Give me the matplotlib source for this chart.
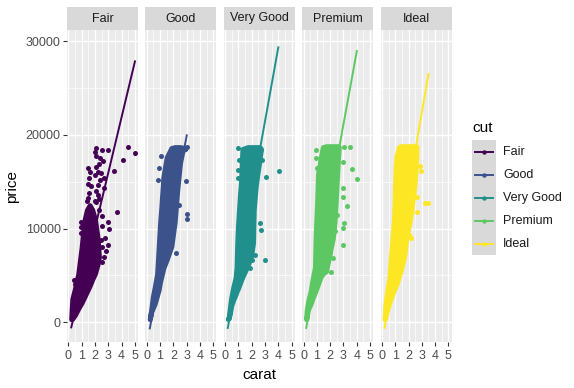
import numpy as np
import matplotlib.pyplot as plt
from matplotlib.patches import Rectangle

plt.rcParams['font.family'] = ['Liberation Sans', 'DejaVu Sans']

cuts = ['Fair', 'Good', 'Very Good', 'Premium', 'Ideal']
colors = ['#440154', '#3B528B', '#21908C', '#5DC863', '#FDE725']

# dense band of points in each facet: carat, lowest and highest price
fair_carat = [0.22, 0.25, 0.3, 0.5, 0.75, 1.0, 1.2, 1.4, 1.6, 1.8, 2.0, 2.2, 2.3]
fair_lo = [330, 340, 400, 800, 1500, 2100, 2700, 3300, 3900, 4600, 5200, 6200, 7000]
fair_hi = [400, 1300, 2500, 3600, 5200, 8000, 10800, 12000, 12500, 12000, 11000, 9000, 7000]

good_carat = [0.23, 0.3, 0.45, 0.6, 0.78, 0.9, 1.0, 1.1, 1.25, 1.5, 1.85, 2.1, 2.3, 2.5, 2.7, 2.9]
good_lo = [330, 1000, 1500, 2000, 2900, 3500, 4300, 4900, 5800, 6700, 8100, 10700, 14200, 17000, 18400, 18500]
good_hi = [330, 900, 2660, 3730, 5150, 8000, 10500, 12300, 15500, 17600, 18600, 18700, 18700, 18700, 18650, 18500]

vgood_carat = [0.2, 0.28, 0.36, 0.46, 0.61, 0.79, 0.86, 0.91, 0.96, 1.04, 1.12, 1.2, 1.3,
               1.7, 1.95, 2.1, 2.15, 2.3, 2.4, 2.55, 2.65, 2.7]
vgood_lo = [350, 500, 1000, 1800, 2400, 3000, 3300, 3450, 3600, 3900, 4200, 4500, 4850,
            6080, 7080, 8500, 12000, 14500, 15600, 17000, 18100, 18400]
vgood_hi = [350, 530, 1600, 2660, 3730, 4800, 5870, 8360, 10140, 11920, 13700, 15200, 18500,
            18700, 18700, 18700, 18700, 18700, 18700, 18700, 18600, 18500]

prem_carat = [0.2, 0.23, 0.31, 0.36, 0.54, 0.66, 0.86, 0.91, 0.96, 1.02, 1.09, 1.3, 1.45,
              1.7, 1.95, 2.2, 2.33, 2.4, 2.5, 2.6, 2.65]
prem_lo = [330, 500, 1200, 1450, 2000, 2500, 3200, 3400, 3600, 3800, 4100, 4900, 5200,
           5470, 7250, 8960, 10640, 12420, 15000, 17750, 18600]
prem_hi = [330, 1240, 1900, 2310, 3380, 4440, 5870, 9000, 10850, 12630, 15830, 17610, 18700,
           18800, 18800, 18800, 18800, 18800, 18800, 18800, 18700]

ideal_carat = [0.2, 0.27, 0.44, 0.55, 0.6, 0.7, 0.8, 0.9, 0.95, 0.98, 1.03, 1.1, 1.28, 1.43,
               1.68, 1.86, 2.06, 2.19, 2.31, 2.44, 2.57, 2.6]
ideal_lo = [330, 700, 1600, 2090, 2300, 2700, 3100, 3450, 3600, 3700, 3900, 4100, 4950, 5650,
            7080, 9210, 10640, 11700, 13130, 14500, 17500, 18600]
ideal_hi = [330, 1950, 3730, 4700, 5510, 7290, 9070, 10850, 12630, 14410, 16540, 17790, 18700, 18800,
            18800, 18800, 18800, 18800, 18800, 18800, 18800, 18700]

# scattered points outside the band
fair_pt_carat = [1.5, 1.57, 1.5, 1.57, 1.4, 2.07, 2.0, 2.5, 3.0, 4.52, 5.01, 4.13, 2.4, 2.58,
                 2.07, 3.41, 2.45, 2.0, 2.7, 2.2, 2.65, 2.2, 2.07, 3.66, 0.99, 0.94, 2.5, 3.0,
                 3.08, 2.76, 2.45, 2.5, 2.96, 0.94, 2.7, 2.83, 2.5, 0.43, 0.48,
                 2.1, 2.3, 2.2, 2.35, 2.1, 2.3, 1.6, 1.45, 2.0, 2.3, 2.5, 1.7]
fair_pt_price = [16500, 15400, 14800, 13770, 12900, 18640, 18200, 18400, 18400, 18700, 18020, 17330, 17500, 17200,
                 16600, 16150, 15900, 15700, 15370, 14660, 14300, 13600, 12800, 11740, 10740, 10200, 10300, 10740,
                 9960, 8960, 8790, 8070, 8250, 9500, 7000, 7600, 6470, 4500, 4050,
                 17800, 16900, 16000, 15200, 14000, 13200, 16000, 13300, 13000, 12000, 11300, 14500]

good_pt_carat = [3.01, 3.01, 2.95, 0.93, 0.86, 1.1, 3.0, 2.9, 2.2, 2.4]
good_pt_price = [11600, 11030, 15085, 16440, 15190, 17790, 18700, 18500, 7400, 12500]

vgood_pt_carat = [4.03, 3.01, 3.05, 2.71, 2.63, 2.25, 2.81, 0.94, 1.04, 0.99, 0.94, 2.0, 1.87]
vgood_pt_price = [16150, 6650, 15470, 9850, 10560, 7180, 17330, 18640, 17330, 16260, 15370, 6650, 5830]

prem_pt_carat = [0.94, 0.99, 0.94, 3.01, 3.5, 2.96, 3.64, 4.01, 2.96, 2.96, 3.24, 3.01, 2.96,
                 2.38, 2.96, 2.25, 2.05, 2.0, 2.5]
prem_pt_price = [18395, 16437, 17505, 18750, 18750, 17080, 16400, 15300, 14302, 13412, 12420, 10565, 10031,
                 9746, 8252, 6828, 5404, 7366, 11500]

ideal_pt_carat = [3.22, 3.5, 2.9, 2.97, 2.66, 2.66, 2.16, 2.0]
ideal_pt_price = [12700, 12700, 16700, 16100, 11800, 13340, 8960, 9300]

# linear fit per cut: carat range and fitted price at both ends
fit_carat_lo = [0.22, 0.23, 0.2, 0.2, 0.2]
fit_carat_hi = [5.01, 3.01, 4.0, 4.01, 3.5]
fit_price_lo = [-540, -650, -600, -600, -600]
fit_price_hi = [27850, 19950, 29350, 28950, 26500]

cores = [(fair_carat, fair_lo, fair_hi), (good_carat, good_lo, good_hi),
         (vgood_carat, vgood_lo, vgood_hi), (prem_carat, prem_lo, prem_hi),
         (ideal_carat, ideal_lo, ideal_hi)]
pts = [(fair_pt_carat, fair_pt_price), (good_pt_carat, good_pt_price),
       (vgood_pt_carat, vgood_pt_price), (prem_pt_carat, prem_pt_price),
       (ideal_pt_carat, ideal_pt_price)]

W, H = 574, 388
fig = plt.figure(figsize=(W / 100, H / 100), dpi=100)

ptop, pbot = 30, 342
for i, cut in enumerate(cuts):
    left = 67 + i * 78.4
    ax = fig.add_axes([left / W, 1 - pbot / H, 71 / W, (pbot - ptop) / H])
    ax.set_facecolor('#EBEBEB')
    for s in ax.spines.values():
        s.set_visible(False)
    ax.set_xlim(-0.1, 5.24)
    ax.set_ylim(-2100, 31200)
    ax.set_xticks(range(6))
    ax.set_xticks(np.arange(0.5, 5.5, 1), minor=True)
    ax.set_yticks([0, 10000, 20000, 30000])
    ax.set_yticks([5000, 15000, 25000], minor=True)
    ax.grid(which='major', color='white', lw=1.0)
    ax.grid(which='minor', color='white', lw=0.5)
    ax.set_axisbelow(True)
    ax.tick_params(which='major', length=2.8, width=0.8, color='#333333',
                   labelcolor='#4D4D4D', labelsize=9, pad=1.8)
    ax.tick_params(axis='x', which='major', pad=3.2)
    ax.tick_params(which='minor', length=0)
    if i > 0:
        ax.tick_params(axis='y', which='major', length=0, labelleft=False)

    c = colors[i]
    xs, lo, hi = cores[i]
    ax.fill_between(xs, lo, hi, color=c, lw=3.6, edgecolor=c, joinstyle='round')
    ax.scatter(pts[i][0], pts[i][1], s=13, color=c, lw=0)
    ax.plot([fit_carat_lo[i], fit_carat_hi[i]], [fit_price_lo[i], fit_price_hi[i]],
            color=c, lw=1.4)

    ax.add_patch(Rectangle((0, 1), 1, 23 / 312, transform=ax.transAxes,
                           color='#D9D9D9', clip_on=False, lw=0))
    ax.text(0.5, 1 + 11.5 / 312, cut, transform=ax.transAxes, ha='center',
            va='center', fontsize=9, color='#1A1A1A')

fig.text(12 / W, 1 - 186 / H, 'price', rotation=90, ha='center', va='center', fontsize=11)
fig.text(259 / W, 1 - 375 / H, 'carat', ha='center', va='center', fontsize=11)

# legend
fig.text(472 / W, 1 - 128 / H, 'cut', ha='left', va='center', fontsize=11)
lax = fig.add_axes([472.3 / W, 1 - 255 / H, 23.4 / W, 115 / H])
lax.set_facecolor('#D9D9D9')
lax.set_xlim(0, 1)
lax.set_ylim(0, 5)
lax.set_xticks([])
lax.set_yticks([])
for s in lax.spines.values():
    s.set_visible(False)
for i, cut in enumerate(cuts):
    yk = 4.5 - i
    lax.plot([0.12, 0.88], [yk, yk], color=colors[i], lw=1.4)
    lax.plot([0.5], [yk], 'o', color=colors[i], ms=3.2, mew=0)
    fig.text(503 / W, 1 - (152 + 23 * i) / H, cut, ha='left', va='center',
             fontsize=9, color='#1A1A1A')

fig.savefig('out.png', dpi=100)
